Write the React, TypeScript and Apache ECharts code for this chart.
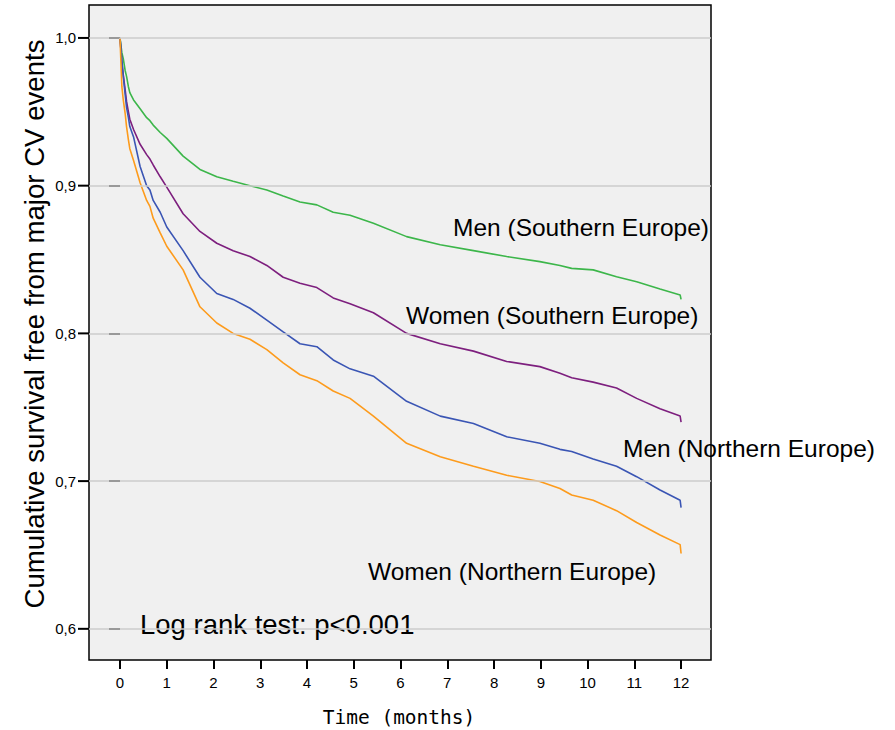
import React, { useEffect, useRef } from "react";
import * as echarts from "echarts";

const times = [0, 0.04, 0.07, 0.11, 0.14, 0.18, 0.21, 0.29, 0.43, 0.57, 0.64, 0.71, 0.86, 1.0, 1.35, 1.71, 2.07, 2.42, 2.78, 3.14, 3.49, 3.85, 4.21, 4.56, 4.92, 5.42, 6.13, 6.85, 7.56, 8.27, 8.98, 9.41, 9.66, 10.12, 10.62, 11.05, 11.55, 11.98, 12.0];

const menSouth = [1.0, 0.99, 0.986, 0.978, 0.974, 0.967, 0.963, 0.958, 0.952, 0.946, 0.944, 0.941, 0.936, 0.932, 0.920, 0.911, 0.906, 0.903, 0.900, 0.897, 0.893, 0.889, 0.887, 0.882, 0.880, 0.8745, 0.8655, 0.860, 0.856, 0.852, 0.8486, 0.846, 0.844, 0.843, 0.8384, 0.835, 0.830, 0.826, 0.823];
const womenSouth = [1.0, 0.983, 0.975, 0.965, 0.957, 0.950, 0.945, 0.938, 0.928, 0.921, 0.918, 0.914, 0.906, 0.899, 0.881, 0.869, 0.861, 0.856, 0.852, 0.846, 0.838, 0.834, 0.831, 0.824, 0.820, 0.814, 0.800, 0.793, 0.788, 0.781, 0.7775, 0.773, 0.770, 0.767, 0.763, 0.756, 0.749, 0.744, 0.740];
const menNorth = [1.0, 0.985, 0.974, 0.962, 0.953, 0.946, 0.940, 0.933, 0.913, 0.900, 0.897, 0.890, 0.882, 0.872, 0.856, 0.838, 0.827, 0.823, 0.817, 0.809, 0.801, 0.793, 0.791, 0.782, 0.776, 0.771, 0.754, 0.744, 0.739, 0.730, 0.7256, 0.7215, 0.720, 0.715, 0.710, 0.703, 0.694, 0.687, 0.682];
const womenNorth = [1.0, 0.967, 0.958, 0.949, 0.940, 0.931, 0.925, 0.917, 0.902, 0.890, 0.886, 0.878, 0.868, 0.859, 0.843, 0.818, 0.807, 0.800, 0.796, 0.789, 0.780, 0.772, 0.768, 0.761, 0.756, 0.744, 0.7256, 0.7165, 0.710, 0.704, 0.6997, 0.695, 0.6906, 0.687, 0.680, 0.672, 0.6635, 0.657, 0.651];

const xTicks = [0, 1, 2, 3, 4, 5, 6, 7, 8, 9, 10, 11, 12];
const yTicks = [0.6, 0.7, 0.8, 0.9, 1.0];

const seriesNames = ["Men (Southern Europe)", "Women (Southern Europe)", "Men (Northern Europe)", "Women (Northern Europe)"];
const seriesValues = [menSouth, womenSouth, menNorth, womenNorth];
const seriesColors = ["#3cb64a", "#7d1f7e", "#3a55b4", "#fd9b1c"];

export default function App() {
  const ref = useRef<HTMLDivElement>(null);
  useEffect(() => {
    if (!ref.current) return;
    const chart = echarts.init(ref.current, null, { renderer: "svg" });
    const font = "Arial, 'Liberation Sans', sans-serif";
    const dataSeries = seriesValues.map((vals, i) => ({
      type: "line",
      name: seriesNames[i],
      data: times.map((t, j) => [t, vals[j]]),
      showSymbol: false,
      symbol: "none",
      lineStyle: { color: seriesColors[i], width: 1.6 },
      itemStyle: { color: seriesColors[i] },
      z: 3,
      silent: true,
    }));
    chart.setOption({
      animation: false,
      grid: {
        left: 89,
        top: 5,
        width: 622,
        height: 655,
        show: true,
        backgroundColor: "#f0f0f0",
        borderColor: "#000",
        borderWidth: 1.5,
      },
      xAxis: {
        type: "value",
        min: -0.663,
        max: 12.64,
        axisLine: { show: false },
        splitLine: { show: false },
        axisTick: {
          show: true,
          length: 9,
          customValues: xTicks,
          lineStyle: { color: "#000", width: 2 },
        },
        axisLabel: {
          customValues: xTicks,
          color: "#000",
          fontSize: 15,
          fontFamily: font,
          margin: 15,
        },
      },
      yAxis: {
        type: "value",
        min: 0.5789,
        max: 1.0223,
        axisLine: { show: false },
        splitLine: { show: false },
        axisTick: {
          show: true,
          length: 11,
          customValues: yTicks,
          lineStyle: { color: "#000", width: 2 },
        },
        axisLabel: {
          customValues: yTicks,
          color: "#000",
          fontSize: 15,
          fontFamily: font,
          margin: 13,
          formatter: (v: number) => v.toFixed(1).replace(".", ","),
        },
      },
      series: [
        {
          type: "line",
          name: "grid",
          data: [[0, 1], [12, 1]],
          symbol: "none",
          lineStyle: { opacity: 0 },
          z: 1,
          silent: true,
          markLine: {
            silent: true,
            symbol: "none",
            label: { show: false },
            lineStyle: { color: "#cccccc", type: "solid", width: 1.5 },
            data: yTicks.map((v) => ({ yAxis: v })),
          },
        },
        {
          type: "custom",
          name: "yticks",
          data: yTicks.map((v) => [0, v]),
          clip: false,
          silent: true,
          z: 10,
          renderItem: (params: any, api: any) => {
            const pt = api.coord([0, api.value(1)]);
            const left = params.coordSys.x;
            return {
              type: "line",
              shape: { x1: left - 11, y1: pt[1], x2: left, y2: pt[1] },
              style: { stroke: "#000", lineWidth: 2 },
            };
          },
        },
        ...dataSeries,
      ],
      graphic: [
        { type: "text", left: 453, top: 227 - 12, style: { text: "Men (Southern Europe)", fontSize: 24.5, fontFamily: font, fill: "#000" } },
        { type: "text", left: 406, top: 315 - 12, style: { text: "Women (Southern Europe)", fontSize: 24.5, fontFamily: font, fill: "#000" } },
        { type: "text", left: 623, top: 448 - 12, style: { text: "Men (Northern Europe)", fontSize: 24.5, fontFamily: font, fill: "#000" } },
        { type: "text", left: 368, top: 571 - 12, style: { text: "Women (Northern Europe)", fontSize: 24.5, fontFamily: font, fill: "#000" } },
        { type: "text", left: 140, top: 624 - 14, style: { text: "Log rank test: p<0.001", fontSize: 27.5, fontFamily: font, fill: "#000" } },
        {
          type: "text",
          x: 34,
          y: 324,
          rotation: Math.PI / 2,
          style: {
            text: "Cumulative survival free from major CV events",
            fontSize: 27.6,
            fontFamily: font,
            fill: "#000",
            align: "center",
            verticalAlign: "middle",
          },
        },
        {
          type: "text",
          x: 399,
          y: 717,
          style: {
            text: "Time (months)",
            fontSize: 19.5,
            fontFamily: "'DejaVu Sans Mono', 'Liberation Mono', monospace",
            fill: "#000",
            align: "center",
            verticalAlign: "middle",
          },
        },
      ],
    });
    return () => chart.dispose();
  }, []);
  return (
    <div
      ref={ref}
      style={{ position: "absolute", left: 0, top: 0, width: 895, height: 730 }}
    />
  );
}
